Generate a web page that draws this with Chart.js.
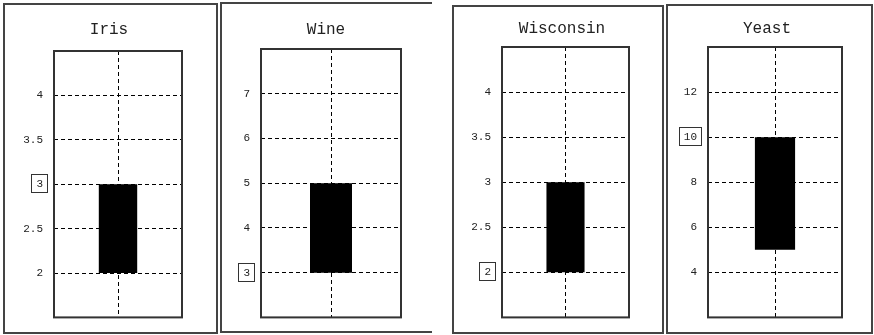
<!DOCTYPE html>
<html>
<head>
<meta charset="utf-8">
<script src="https://cdn.jsdelivr.net/npm/chart.js@4"></script>
<style>
  body { margin: 0; background: #fff; }
  #wrap { position: relative; width: 874px; height: 335px; overflow: hidden; }
  .frame { position: absolute; border: 2px solid #444; box-sizing: border-box; }
  canvas { position: absolute; top: 0; }
</style>
</head>
<body>
<div id="wrap"></div>
<script>
// one floating bar per dataset, range low..high
const names = ['Iris', 'Wine', 'Wisconsin', 'Yeast'];
const lows = [2, 3, 2, 5];
const highs = [3, 5, 3, 10];
const yMin = [1.5, 2, 1.5, 2];
const yMax = [4.5, 8, 4.5, 14];
const yStep = [0.5, 1, 0.5, 2];
const marked = [3, 3, 2, 10];

// panel frames, plot boxes and title positions (page pixels)
const frames = [
  { left: 4, right: 217, top: 4, bottom: 333, open: false },
  { left: 221, right: 431, top: 3, bottom: 332, open: true },
  { left: 453, right: 663, top: 6, bottom: 333, open: false },
  { left: 667, right: 872, top: 5, bottom: 333, open: false }
];
const plots = [
  { left: 54, right: 182, top: 51, bottom: 325, titleX: 109, titleY: 30 },
  { left: 261, right: 401, top: 49, bottom: 323, titleX: 326, titleY: 30 },
  { left: 502, right: 629, top: 47, bottom: 322, titleX: 562, titleY: 29 },
  { left: 708, right: 842, top: 47, bottom: 322, titleX: 767, titleY: 29 }
];

const H = 335;
const FONT = "'Liberation Mono', 'DejaVu Sans Mono', monospace";
Chart.defaults.font.family = FONT;
Chart.defaults.color = '#222';

// solid box around the plot area
const plotBox = {
  id: 'plotBox',
  afterDraw(chart) {
    const { ctx, chartArea: a } = chart;
    ctx.save();
    ctx.strokeStyle = '#333';
    ctx.lineWidth = 2;
    ctx.strokeRect(a.left, a.top, a.right - a.left, a.bottom - a.top);
    ctx.restore();
  }
};

// panel title, placed at a fixed spot above the plot
const panelTitle = {
  id: 'panelTitle',
  afterDraw(chart, args, opts) {
    const ctx = chart.ctx;
    ctx.save();
    ctx.font = '16px ' + FONT;
    ctx.fillStyle = '#222';
    ctx.textAlign = 'center';
    ctx.textBaseline = 'middle';
    ctx.fillText(opts.text, opts.x, opts.y);
    ctx.restore();
  }
};

// small box drawn round one tick label
const markBox = {
  id: 'markBox',
  afterDraw(chart, args, opts) {
    const s = chart.scales.y;
    const tick = s.ticks.find(t => Math.abs(t.value - opts.value) < 1e-9);
    if (!tick) return;
    const ctx = chart.ctx;
    const y = Math.round(s.getPixelForValue(opts.value));
    ctx.save();
    ctx.font = '11px ' + FONT;
    const w = ctx.measureText(tick.label).width;
    const right = s.right - s.options.ticks.padding;
    ctx.strokeStyle = '#333';
    ctx.lineWidth = 1;
    ctx.strokeRect(Math.round(right - w - 5) + 0.5, y - 9.5, Math.round(w + 9), 18);
    ctx.restore();
  }
};

const wrap = document.getElementById('wrap');

names.forEach((name, i) => {
  const f = frames[i];
  const p = plots[i];

  const frame = document.createElement('div');
  frame.className = 'frame';
  frame.style.left = (f.left - 1) + 'px';
  frame.style.top = (f.top - 1) + 'px';
  frame.style.width = (f.right - f.left + 2) + 'px';
  frame.style.height = (f.bottom - f.top + 2) + 'px';
  if (f.open) frame.style.borderRight = 'none';
  wrap.appendChild(frame);

  const canvas = document.createElement('canvas');
  const cw = f.right - f.left;
  canvas.width = cw;
  canvas.height = H;
  canvas.style.left = f.left + 'px';
  canvas.style.width = cw + 'px';
  canvas.style.height = H + 'px';
  wrap.appendChild(canvas);

  const axisWidth = p.left - f.left;

  new Chart(canvas.getContext('2d'), {
    type: 'bar',
    data: {
      labels: [name],
      datasets: [{
        data: [[lows[i], highs[i]]],
        backgroundColor: '#000',
        borderWidth: 0,
        barPercentage: 0.3,
        categoryPercentage: 1
      }]
    },
    options: {
      responsive: false,
      animation: false,
      devicePixelRatio: 1,
      layout: {
        padding: { left: 0, top: p.top, right: f.right - p.right, bottom: H - p.bottom }
      },
      plugins: {
        legend: { display: false },
        tooltip: { enabled: false },
        title: { display: false },
        panelTitle: { text: name, x: p.titleX - f.left, y: p.titleY },
        markBox: { value: marked[i] }
      },
      scales: {
        x: {
          type: 'category',
          offset: true,
          ticks: { display: false },
          grid: { offset: false, color: '#000', lineWidth: 1, drawTicks: false },
          border: { display: false, dash: [4, 3] },
          afterFit(s) { s.height = 0; }
        },
        y: {
          min: yMin[i],
          max: yMax[i],
          ticks: {
            stepSize: yStep[i],
            padding: 11,
            color: '#222',
            font: { size: 11 },
            callback: v => String(Math.round(v * 100) / 100)
          },
          grid: { color: '#000', lineWidth: 1, drawTicks: false },
          border: { display: false, dash: [4, 3] },
          afterBuildTicks(s) {
            s.ticks = s.ticks.filter(t => t.value > s.min + 1e-9 && t.value < s.max - 1e-9);
          },
          afterFit(s) { s.width = axisWidth; }
        }
      }
    },
    plugins: [plotBox, panelTitle, markBox]
  });
});
</script>
</body>
</html>
